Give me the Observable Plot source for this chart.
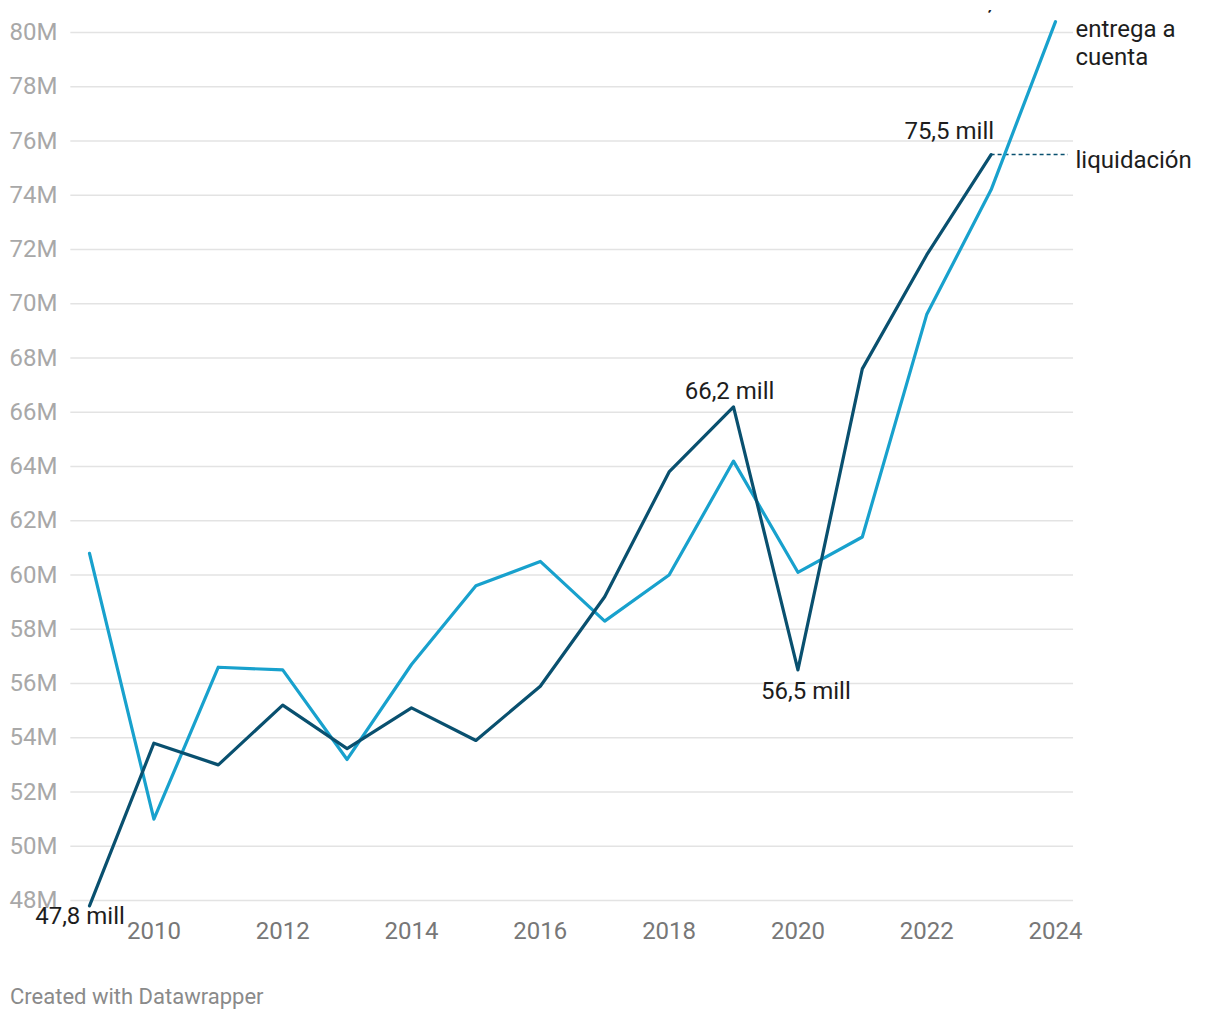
<!DOCTYPE html>
<html>
<head>
<meta charset="utf-8">
<script src="https://cdn.jsdelivr.net/npm/d3@7"></script>
<script src="https://cdn.jsdelivr.net/npm/@observablehq/plot@0.6"></script>
<style>
  html, body { margin: 0; padding: 0; background: #fff; }
  body { width: 1220px; font-family: Roboto, sans-serif; }
  #chart { margin-top: 10px; overflow: hidden; height: 940px; }
  #caption { margin: 34px 0 0 10px; font-size: 22px; color: #8a8a8a; line-height: normal; }
</style>
</head>
<body>
<div id="chart"></div>
<div id="caption">Created with Datawrapper</div>
<script>
// Years
const yearsEntrega = [2009, 2010, 2011, 2012, 2013, 2014, 2015, 2016, 2017, 2018, 2019, 2020, 2021, 2022, 2023, 2024];
const yearsLiquidacion = [2009, 2010, 2011, 2012, 2013, 2014, 2015, 2016, 2017, 2018, 2019, 2020, 2021, 2022, 2023];
// Values in millions
const entregaACuenta = [60.8, 51.0, 56.6, 56.5, 53.2, 56.7, 59.6, 60.5, 58.3, 60.0, 64.2, 60.1, 61.4, 69.6, 74.2, 80.4];
const liquidacion = [47.8, 53.8, 53.0, 55.2, 53.6, 55.1, 53.9, 55.9, 59.2, 63.8, 66.2, 56.5, 67.6, 71.8, 75.5];
// Axis ticks
const yTicks = [48, 50, 52, 54, 56, 58, 60, 62, 64, 66, 68, 70, 72, 74, 76, 78, 80];
const xTicks = [2010, 2012, 2014, 2016, 2018, 2020, 2022, 2024];
// Annotations
const annotYears = [2009, 2019, 2020, 2023, 2024];
const annotValues = [47.8, 66.2, 56.5, 75.5, 80.4];
const annotTexts = ["47,8 mill", "66,2 mill", "56,5 mill", "75,5 mill", "80,4 mill"];
const seriesNames = ["entrega a\ncuenta", "liquidación"];

const light = "#18a1cd";
const dark = "#09506f";
const textColor = "#1d1d1d";

const entregaData = yearsEntrega.map((y, i) => ({year: y, value: entregaACuenta[i]}));
const liqData = yearsLiquidacion.map((y, i) => ({year: y, value: liquidacion[i]}));
const annots = annotYears.map((y, i) => ({year: y, value: annotValues[i], text: annotTexts[i]}));
const lastLiq = liqData[liqData.length - 1];
const lastEnt = entregaData[entregaData.length - 1];

const plot = Plot.plot({
  width: 1220,
  height: 940,
  marginTop: 22,
  marginBottom: 50,
  marginLeft: 89,
  marginRight: 165,
  style: {fontFamily: "Roboto, sans-serif", fontSize: "24px", background: "#fff"},
  x: {domain: [2009, 2024]},
  y: {domain: [48, 80]},
  marks: [
    Plot.ruleY(yTicks, {x1: 2008.71, x2: 2024.28, stroke: "#e3e3e3", strokeWidth: 1.5}),
    Plot.axisY({ticks: yTicks, tickFormat: d => d + "M", tickSize: 0, tickPadding: 32, color: "#a8a8a8", fill: "#a8a8a8", fontSize: 24, label: null}),
    Plot.axisX({ticks: xTicks, tickFormat: d => String(d), tickSize: 0, tickPadding: 21, color: "#777", fill: "#777", fontSize: 24, label: null}),
    Plot.ruleY([lastLiq], {x1: d => d.year, x2: 2024.2, y: "value", stroke: dark, strokeWidth: 1.6, strokeDasharray: "4,3"}),
    Plot.line(entregaData, {x: "year", y: "value", stroke: light, strokeWidth: 3.2}),
    Plot.line(liqData, {x: "year", y: "value", stroke: dark, strokeWidth: 3.2}),
    // value annotations
    Plot.text([annots[0]], {x: "year", y: "value", text: "text", dx: -9.5, dy: 10.5, fill: textColor, fontSize: 24}),
    Plot.text([annots[1]], {x: "year", y: "value", text: "text", dx: -4, dy: -15.5, fill: textColor, fontSize: 24}),
    Plot.text([annots[2]], {x: "year", y: "value", text: "text", dx: 8, dy: 21.4, fill: textColor, fontSize: 24}),
    Plot.text([annots[3]], {x: "year", y: "value", text: "text", textAnchor: "end", dx: 3, dy: -23.6, fill: textColor, fontSize: 24}),
    Plot.text([annots[4]], {x: "year", y: "value", text: "text", textAnchor: "end", lineAnchor: "bottom", dx: -5, dy: -11.5, fill: textColor, fontSize: 24}),
    // series labels
    Plot.text([lastEnt], {x: "year", y: "value", text: () => seriesNames[0], textAnchor: "start", lineAnchor: "top", dx: 20, dy: -4.7, lineHeight: 1.18, fill: textColor, fontSize: 24}),
    Plot.text([lastLiq], {x: () => 2024, y: "value", text: () => seriesNames[1], textAnchor: "start", dx: 20, dy: 5.4, fill: textColor, fontSize: 24})
  ]
});
document.getElementById("chart").appendChild(plot);
</script>
</body>
</html>
